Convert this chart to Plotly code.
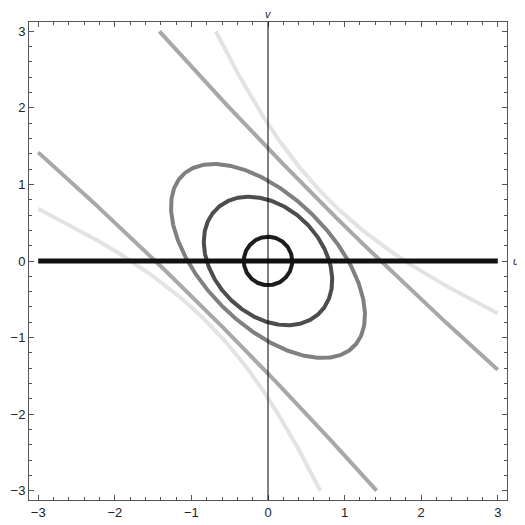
import numpy as np
import plotly.graph_objects as go

# conics u^2 + 2*k*u*v + v^2 = c
cross_k = [0.0, 0.3, 0.56, 1.04, 1.53]
level_c = [0.1, 0.64, 1.1, 2.16, 3.2]
shades = ["#1c1c1c", "#4d4d4d", "#808080", "#a8a8a8", "#e3e3e3"]

tick_vals = [-3, -2, -1, 0, 1, 2, 3]
tick_text = ["\u22123", "\u22122", "\u22121", "0", "1", "2", "3"]

LIM = 3.0


def clip(u, v):
    u = np.array(u, dtype=float)
    v = np.array(v, dtype=float)
    bad = (np.abs(u) > LIM + 1e-9) | (np.abs(v) > LIM + 1e-9)
    u[bad] = np.nan
    v[bad] = np.nan
    return u, v


fig = go.Figure()

# draw lightest first so darker curves sit on top
for k, c, col in reversed(list(zip(cross_k, level_c, shades))):
    if k < 1:
        th = np.linspace(0, 2 * np.pi, 721)
        r = np.sqrt(c / (1 + 2 * k * np.cos(th) * np.sin(th)))
        u, v = r * np.cos(th), r * np.sin(th)
        fig.add_trace(go.Scatter(x=u, y=v, mode="lines",
                                 line=dict(color=col, width=4),
                                 hoverinfo="skip", showlegend=False))
    else:
        uu = np.linspace(-LIM - 0.5, LIM + 0.5, 2001)
        root = np.sqrt((k * k - 1) * uu ** 2 + c)
        for sgn in (1, -1):
            u, v = clip(uu, -k * uu + sgn * root)
            fig.add_trace(go.Scatter(x=u, y=v, mode="lines",
                                     line=dict(color=col, width=4),
                                     hoverinfo="skip", showlegend=False))

# degenerate member: the u axis itself
fig.add_trace(go.Scatter(x=[-LIM, LIM], y=[0, 0], mode="lines",
                         line=dict(color="#111111", width=5),
                         hoverinfo="skip", showlegend=False))

font = dict(family="Liberation Sans, Arial", size=13, color="#222222")

axis = dict(range=[-3.12, 3.12], tickvals=tick_vals, ticktext=tick_text,
            ticks="inside", ticklen=5, tickcolor="#555555", automargin=False,
            showline=True, linecolor="#555555", linewidth=1, mirror="ticks",
            showgrid=False, zeroline=False,
            minor=dict(dtick=0.2, ticks="inside", ticklen=3, tickcolor="#555555"),
            tickfont=font)

# page body adds an 8px offset, so the figure is 517 to fill the window
fig.update_layout(
    width=517, height=517,
    margin=dict(l=21, r=18, t=14, b=25),
    plot_bgcolor="white", paper_bgcolor="white",
    xaxis=dict(axis),
    yaxis=dict(axis),
    shapes=[dict(type="line", xref="x", yref="paper", x0=0, x1=0, y0=0, y1=1,
                 line=dict(color="black", width=1), layer="above")],
    annotations=[
        dict(text="<i>v</i>", x=0, y=1, xref="x", yref="paper", yshift=8,
             yanchor="middle", showarrow=False, font=dict(font, size=11)),
        dict(text="<i>u</i>", x=1, y=0, xref="paper", yref="y", xshift=9,
             xanchor="center", showarrow=False, font=dict(font, size=11)),
    ],
)

fig.write_html("out.html")
